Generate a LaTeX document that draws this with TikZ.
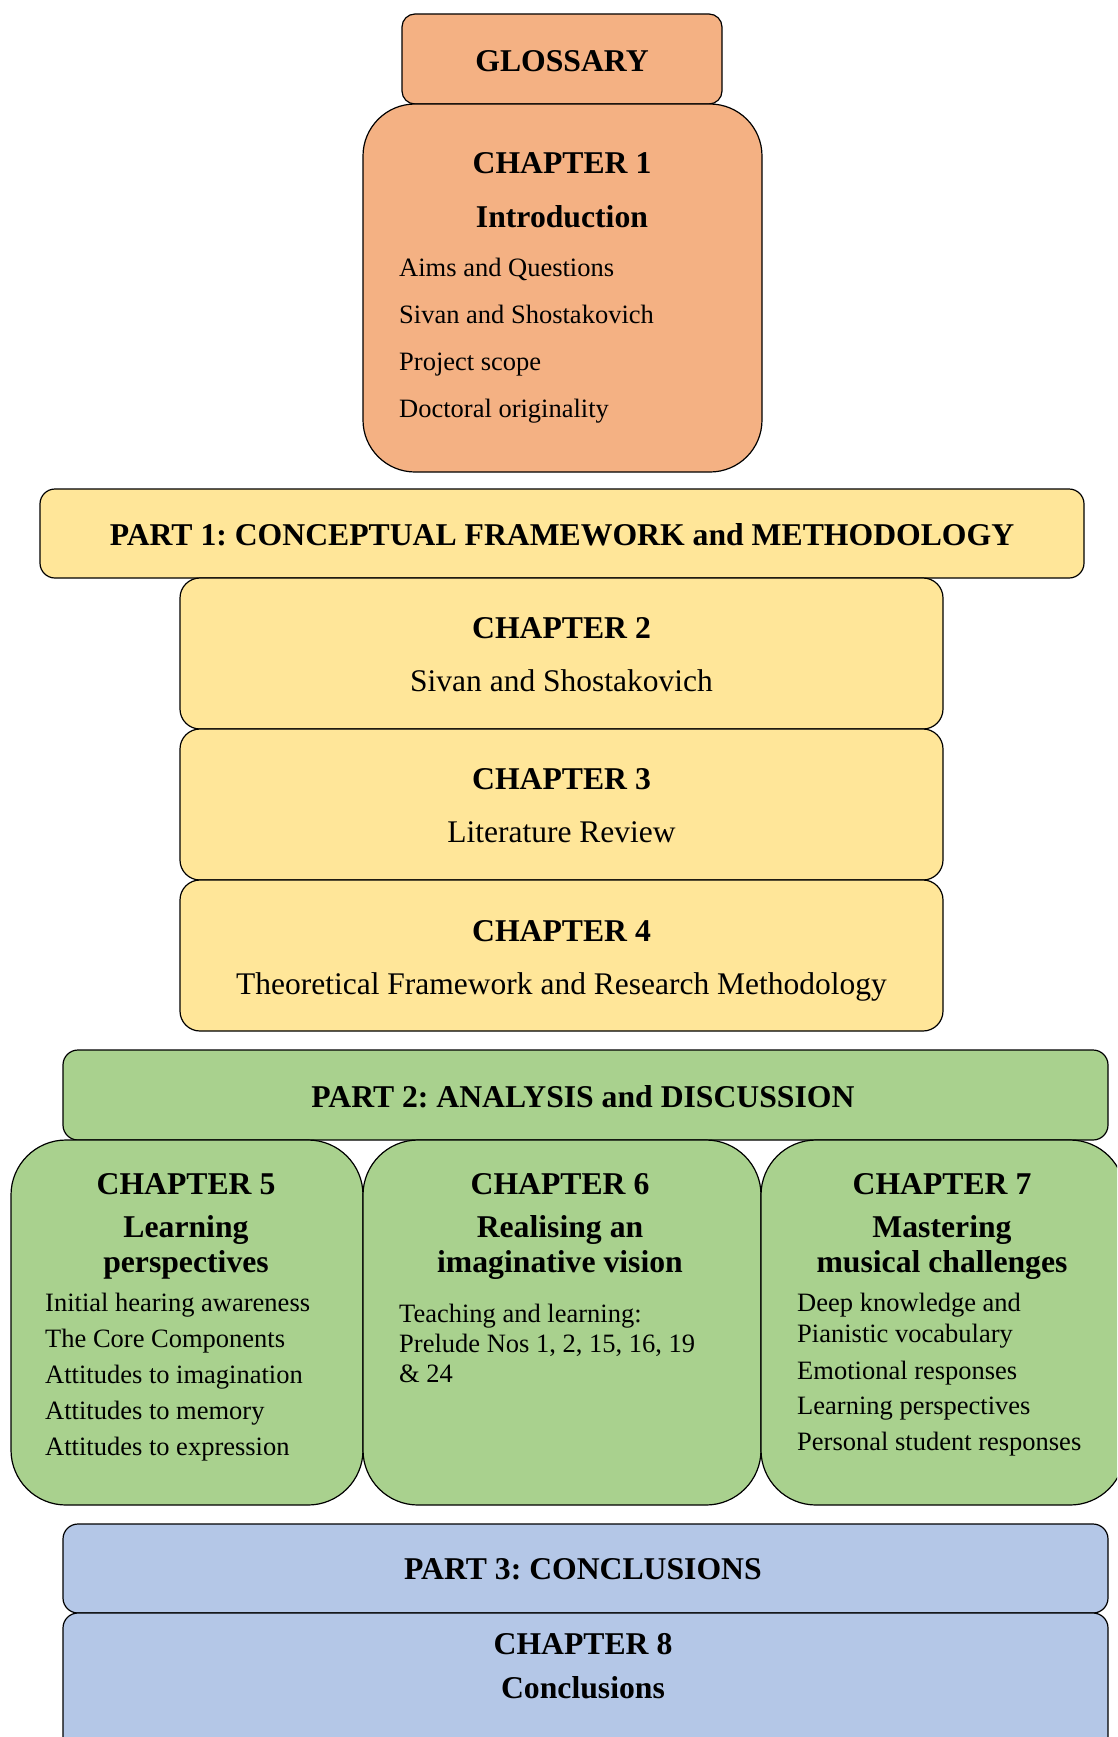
\documentclass[tikz,border=0pt]{standalone}
\usepackage{fontspec}
\setmainfont{Liberation Serif}
\frenchspacing
\definecolor{corange}{HTML}{F4B183}
\definecolor{cyellow}{HTML}{FFE699}
\definecolor{cgreen}{HTML}{A9D18E}
\definecolor{cblue}{HTML}{B4C7E7}
\newcommand{\hfont}{\fontsize{31.7}{36}\selectfont\bfseries}
\newcommand{\sfontbig}{\fontsize{31.5}{36}\selectfont}
\newcommand{\bfont}{\fontsize{26.5}{30}\selectfont}
\tikzset{
  boxnode/.style={draw=black, line width=1.2pt, inner sep=0pt, outer sep=0pt},
  head/.style={anchor=base, inner sep=0pt, font=\hfont},
  subhead/.style={anchor=base, inner sep=0pt, font=\sfontbig},
  item/.style={anchor=base west, inner sep=0pt, font=\bfont},
}
\begin{document}
\begin{tikzpicture}[x=1pt,y=-1pt]
\useasboundingbox (0,0) rectangle (1117,1737);
\clip (0,0) rectangle (1117,1737);
% orange
\node[boxnode, fill=corange, rounded corners=13pt, minimum width=320pt, minimum height=90pt] (glossary) at (562,59) {};
\node[boxnode, fill=corange, rounded corners=52pt, minimum width=399pt, minimum height=368pt] (ch1) at (562.5,288) {};
\node[head] (glossaryT) at (562,71) {GLOSSARY};
\node[head] (ch1T) at (562,173) {CHAPTER 1};
\node[head] (ch1S) at (562,227) {Introduction};
\foreach \t [count=\i] in {Aims and Questions, Sivan and Shostakovich, Project scope, Doctoral originality}
  \node[item] (ch1L\i) at (399,{276+47*(\i-1)}) {\t};
% yellow
\node[boxnode, fill=cyellow, rounded corners=15pt, minimum width=1044pt, minimum height=89pt] (part1) at (562,533.5) {};
\node[head] (part1T) at (562,545) {PART 1: CONCEPTUAL FRAMEWORK and METHODOLOGY};
\node[boxnode, fill=cyellow, rounded corners=20pt, minimum width=763pt, minimum height=151pt] (ch2) at (561.5,653.5) {};
\node[boxnode, fill=cyellow, rounded corners=20pt, minimum width=763pt, minimum height=151pt] (ch3) at (561.5,804.5) {};
\node[boxnode, fill=cyellow, rounded corners=20pt, minimum width=763pt, minimum height=151pt] (ch4) at (561.5,955.5) {};
\node[head] (ch2T) at (561.5,638) {CHAPTER 2};
\node[subhead] (ch2S) at (561.5,691) {Sivan and Shostakovich};
\node[head] (ch3T) at (561.5,789) {CHAPTER 3};
\node[subhead] (ch3S) at (561.5,842) {Literature Review};
\node[head] (ch4T) at (561.5,941) {CHAPTER 4};
\node[subhead] (ch4S) at (561.5,994) {Theoretical Framework and Research Methodology};
% green
\node[boxnode, fill=cgreen, rounded corners=15pt, minimum width=1045pt, minimum height=90pt] (part2) at (585.5,1095) {};
\node[head] (part2T) at (583,1107) {PART 2: ANALYSIS and DISCUSSION};
\node[boxnode, fill=cgreen, rounded corners=55pt, minimum width=352pt, minimum height=365pt] (ch5) at (187,1322.5) {};
\node[boxnode, fill=cgreen, rounded corners=55pt, minimum width=398pt, minimum height=365pt] (ch6) at (562,1322.5) {};
\node[boxnode, fill=cgreen, rounded corners=55pt, minimum width=364pt, minimum height=365pt] (ch7) at (943,1322.5) {};
\node[head] (ch5T) at (186,1194) {CHAPTER 5};
\node[head] (ch5S1) at (186,1237) {Learning};
\node[head] (ch5S2) at (186,1272) {perspectives};
\foreach \t [count=\i] in {Initial hearing awareness, The Core Components, Attitudes to imagination, Attitudes to memory, Attitudes to expression}
  \node[item] (ch5L\i) at (45,{1311+36*(\i-1)}) {\t};
\node[head] (ch6T) at (560,1194) {CHAPTER 6};
\node[head] (ch6S1) at (560,1237) {Realising an};
\node[head] (ch6S2) at (560,1272) {imaginative vision};
\foreach \t [count=\i] in {Teaching and learning:, {Prelude Nos 1, 2, 15, 16, 19}, \& 24}
  \node[item] (ch6L\i) at (399,{1322+30*(\i-1)}) {\t};
\node[head] (ch7T) at (942,1194) {CHAPTER 7};
\node[head] (ch7S1) at (942,1237) {Mastering};
\node[head] (ch7S2) at (942,1272) {musical challenges};
\node[item] (ch7L1) at (797,1311) {Deep knowledge and};
\node[item] (ch7L2) at (797,1342) {Pianistic vocabulary};
\node[item] (ch7L3) at (797,1379) {Emotional responses};
\node[item] (ch7L4) at (797,1414) {Learning perspectives};
\node[item] (ch7L5) at (797,1450) {Personal student responses};
% blue
\node[boxnode, fill=cblue, rounded corners=15pt, minimum width=1045pt, minimum height=89pt] (part3) at (585.5,1568.5) {};
\node[boxnode, fill=cblue, rounded corners=15pt, minimum width=1045pt, minimum height=157pt] (ch8) at (585.5,1691.5) {};
\node[head] (part3T) at (583,1579) {PART 3: CONCLUSIONS};
\node[head] (ch8T) at (583,1654) {CHAPTER 8};
\node[head] (ch8S) at (583,1698) {Conclusions};
\end{tikzpicture}
\end{document}
